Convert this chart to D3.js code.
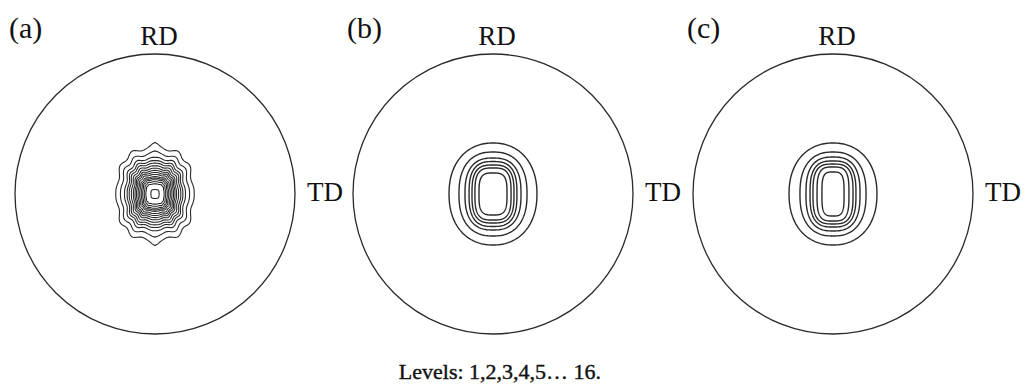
<!DOCTYPE html>
<html>
<head>
<meta charset="utf-8">
<script src="https://cdn.jsdelivr.net/npm/d3@7"></script>
<style>
  html, body { margin: 0; padding: 0; background: #fff; }
  svg text { font-family: "Liberation Serif", "DejaVu Serif", serif; fill: #111; }
</style>
</head>
<body>
<div id="chart"></div>
<script>
// Pole figures, three panels. Contour sizes are half-width / half-height
// as a fraction of the pole figure radius, outermost level first.
const PANELS = ['(a)', '(b)', '(c)'];
const AXIS_TOP = 'RD';
const AXIS_RIGHT = 'TD';
const LEVELS_NOTE = 'Levels: 1,2,3,4,5\u2026 16.';

const A_HALF_W = [0.271, 0.239, 0.211, 0.193, 0.179, 0.164, 0.150, 0.139, 0.129, 0.118, 0.107, 0.096, 0.086, 0.075, 0.064, 0.029];
const A_HALF_H = [0.329, 0.286, 0.254, 0.232, 0.214, 0.196, 0.179, 0.164, 0.150, 0.136, 0.121, 0.111, 0.100, 0.086, 0.071, 0.032];

const B_HALF_W = [0.314, 0.243, 0.200, 0.171, 0.150, 0.129, 0.100];
const B_HALF_H = [0.364, 0.300, 0.257, 0.232, 0.207, 0.186, 0.150];

const C_HALF_W = [0.314, 0.236, 0.193, 0.164, 0.143, 0.114, 0.079];
const C_HALF_H = [0.364, 0.300, 0.264, 0.236, 0.214, 0.193, 0.157];

const W = 1031, H = 389;
const R = 140;
const centers = [155, 493, 833];
const cy = 194;

// per-panel contour look: squareness, waviness, pointed tips (panel a only)
const looks = [
  { w: A_HALF_W, h: A_HALF_H, nOuter: 2.6, nInner: 3.4, wave: 0.035, tip: true, sw: 1.1 },
  { w: B_HALF_W, h: B_HALF_H, nOuter: 2.2, nInner: 3.4, wave: 0, tip: false, sw: 1.4 },
  { w: C_HALF_W, h: C_HALF_H, nOuter: 2.2, nInner: 3.6, wave: 0, tip: false, sw: 1.4 },
];

const svg = d3.select('#chart').append('svg').attr('width', W).attr('height', H);

function contourPoints(hw, hh, n, wave, tip) {
  const pts = [];
  const N = 180;
  for (let i = 0; i < N; i++) {
    const t = (i / N) * Math.PI * 2;
    const c = Math.cos(t), s = Math.sin(t);
    let x = hw * Math.sign(c) * Math.pow(Math.abs(c), 2 / n);
    let y = hh * Math.sign(s) * Math.pow(Math.abs(s), 2 / n);
    const k = 1 + wave * Math.cos(12 * t);
    x *= k; y *= k;
    if (tip) {
      const d = x / hw;
      y += Math.sign(s) * tip * Math.exp(-(d * d) / 0.012);
    }
    pts.push([x, y]);
  }
  return pts;
}

PANELS.forEach((label, p) => {
  const cx = centers[p];
  const x = d3.scaleLinear().domain([-1, 1]).range([cx - R, cx + R]);
  const y = d3.scaleLinear().domain([-1, 1]).range([cy + R, cy - R]);
  const g = svg.append('g');

  g.append('circle')
    .attr('cx', x(0)).attr('cy', y(0)).attr('r', x(1) - x(0))
    .attr('fill', 'none').attr('stroke', '#2a2a2a').attr('stroke-width', 1.3);

  const look = looks[p];
  const nLev = look.w.length;
  const line = d3.line().x(d => x(d[0])).y(d => y(d[1])).curve(d3.curveLinearClosed);

  look.w.forEach((hw, i) => {
    const f = nLev > 1 ? i / (nLev - 1) : 0;
    const n = look.nOuter + (look.nInner - look.nOuter) * f;
    const wave = look.wave * (1 - 0.5 * f);
    let tip = 0;
    if (look.tip) tip = i === 0 ? 0.028 : i === 1 ? 0.012 : 0;
    g.append('path')
      .attr('d', line(contourPoints(hw, look.h[i], n, wave, tip)))
      .attr('fill', 'none')
      .attr('stroke', '#2a2a2a')
      .attr('stroke-width', look.sw);
  });

  g.append('text')
    .attr('x', cx - 146).attr('y', 38)
    .style('font-size', '30px')
    .text(label);

  g.append('text')
    .attr('x', x(0) + 4).attr('y', 45)
    .attr('text-anchor', 'middle')
    .style('font-size', '27px')
    .text(AXIS_TOP);

  g.append('text')
    .attr('x', x(1) + 12).attr('y', 201)
    .style('font-size', '27px')
    .text(AXIS_RIGHT);
});

svg.append('text')
  .attr('x', 500).attr('y', 379)
  .attr('text-anchor', 'middle')
  .style('font-size', '22px')
  .attr('stroke', '#111').attr('stroke-width', 0.4)
  .text(LEVELS_NOTE);
</script>
</body>
</html>
